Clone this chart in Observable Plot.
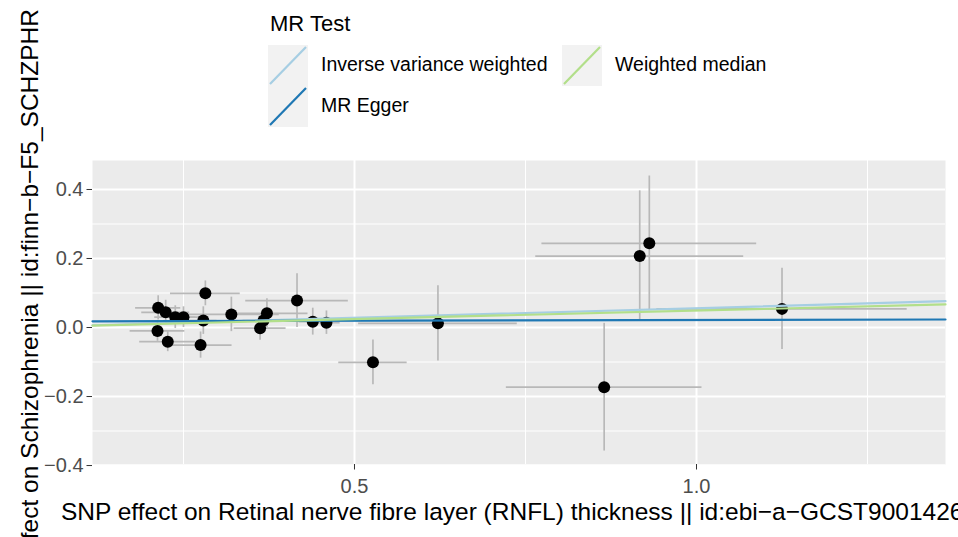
<!DOCTYPE html>
<html>
<head>
<meta charset="utf-8">
<script src="https://cdn.jsdelivr.net/npm/d3@7"></script>
<script src="https://cdn.jsdelivr.net/npm/@observablehq/plot@0.6"></script>
<style>
  html, body { margin: 0; padding: 0; background: white; overflow: hidden; }
  #chart { position: relative; width: 958px; height: 537px; overflow: hidden; font-family: "Liberation Sans", Arial, Helvetica, sans-serif; }
  #chart svg { position: absolute; left: 0; top: 0; overflow: visible; }
  #chart [aria-label="x-axis label"] text, #chart [aria-label="y-axis label"] text { font-size: 24.5px; fill: #000; }
  #chart [aria-label="x-axis tick label"] text, #chart [aria-label="y-axis tick label"] text { font-size: 20px; fill: #4d4d4d; }
  #chart [aria-label="x-axis tick"], #chart [aria-label="y-axis tick"] { stroke: #333333; }
  .legend { position: absolute; left: 0; top: 0; }
  .legend-title { position: absolute; left: 270px; top: 11px; font-size: 22px; color: #000; white-space: nowrap; }
  .legend-key { position: absolute; width: 40px; height: 41px; background: #f2f2f2; }
  .legend-key svg { position: static; display: block; }
  .legend-label { position: absolute; font-size: 19.5px; color: #000; white-space: nowrap; line-height: 41px; }
</style>
</head>
<body>
<div id="chart"></div>
<script>
// SNP-level effects: exposure (RNFL thickness) and outcome (schizophrenia), with standard errors
const betaExposure = [0.213, 0.224, 0.212, 0.227, 0.238, 0.250, 0.282, 0.279, 0.275, 0.320, 0.362, 0.372, 0.367, 0.416, 0.439, 0.459, 0.527, 0.622, 0.865, 0.917, 0.931, 1.125];
const seExposure   = [0.033, 0.035, 0.040, 0.041, 0.030, 0.030, 0.051, 0.020, 0.046, 0.070, 0.038, 0.060, 0.030, 0.075, 0.020, 0.020, 0.050, 0.116, 0.143, 0.152, 0.157, 0.183];
const betaOutcome  = [0.057, 0.044, -0.010, -0.041, 0.030, 0.030, 0.099, 0.020, -0.051, 0.038, -0.002, 0.041, 0.020, 0.078, 0.017, 0.014, -0.101, 0.012, -0.173, 0.207, 0.244, 0.054];
const seOutcome    = [0.035, 0.035, 0.030, 0.029, 0.033, 0.030, 0.036, 0.040, 0.038, 0.050, 0.035, 0.042, 0.030, 0.078, 0.039, 0.034, 0.065, 0.109, 0.185, 0.189, 0.195, 0.118];

// MR estimates drawn as lines: intercept + slope * exposure effect
const methods          = ["Inverse variance weighted", "MR Egger", "Weighted median"];
const methodIntercepts = [0, 0.0175, 0];
const methodSlopes     = [0.056, 0.0042, 0.049];
const methodColors     = ["#a6cee3", "#1f78b4", "#b2df8a"];

// Axis ticks and titles
const xTicks      = [0.5, 1.0];
const xMinorTicks = [0.25, 0.75, 1.25];
const yTicks      = [-0.4, -0.2, 0, 0.2, 0.4];
const yMinorTicks = [-0.3, -0.1, 0.1, 0.3];
const xDomain     = [0.117, 1.364];
const yDomain     = [-0.397, 0.484];
const xTitle = "SNP effect on Retinal nerve fibre layer (RNFL) thickness || id:ebi\u2212a\u2212GCST90014268";
const yTitle = "SNP effect on Schizophrenia || id:finn\u2212b\u2212F5_SCHZPHR";
const legendTitle = "MR Test";

const snps = betaExposure.map((bx, i) => ({
  bx, sx: seExposure[i], by: betaOutcome[i], sy: seOutcome[i]
}));

const fits = methods.flatMap((m, i) =>
  xDomain.map(x => ({method: m, x, y: methodIntercepts[i] + methodSlopes[i] * x}))
);

const fmt = d3.format(".1f");

const plot = Plot.plot({
  width: 958,
  height: 537,
  marginLeft: 92,
  marginRight: 13,
  marginTop: 160,
  marginBottom: 73,
  style: {fontFamily: '"Liberation Sans", Arial, Helvetica, sans-serif', background: "transparent", overflow: "visible"},
  x: {domain: xDomain},
  y: {domain: yDomain},
  color: {domain: methods, range: methodColors},
  marks: [
    Plot.frame({fill: "#ebebeb", stroke: null}),
    Plot.gridX(xMinorTicks, {stroke: "white", strokeOpacity: 1, strokeWidth: 1}),
    Plot.gridY(yMinorTicks, {stroke: "white", strokeOpacity: 1, strokeWidth: 1}),
    Plot.gridX(xTicks, {stroke: "white", strokeOpacity: 1, strokeWidth: 2}),
    Plot.gridY(yTicks, {stroke: "white", strokeOpacity: 1, strokeWidth: 2}),
    Plot.axisX(xTicks, {
      tickFormat: fmt, tickSize: 5.5, tickPadding: 9, fontSize: 20,
      label: xTitle, labelAnchor: "center", labelOffset: 55, labelArrow: "none"
    }),
    Plot.axisY(yTicks, {
      tickFormat: fmt, tickSize: 5.5, tickPadding: 3.5, fontSize: 20,
      label: yTitle, labelAnchor: "center", labelOffset: 72, labelArrow: "none"
    }),
    Plot.ruleX(snps, {x: "bx", y1: d => d.by - d.sy, y2: d => d.by + d.sy, stroke: "#b8b8b8", strokeWidth: 1.7}),
    Plot.ruleY(snps, {y: "by", x1: d => d.bx - d.sx, x2: d => d.bx + d.sx, stroke: "#b8b8b8", strokeWidth: 1.7}),
    Plot.dot(snps, {x: "bx", y: "by", r: 6, fill: "black", stroke: null}),
    Plot.line(fits, {x: "x", y: "y", z: "method", stroke: "method", strokeWidth: 2.2})
  ]
});

const chart = document.getElementById("chart");
chart.appendChild(plot);

// Legend: title plus one key per method in a two-column layout
const legend = document.createElement("div");
legend.className = "legend";
const title = document.createElement("div");
title.className = "legend-title";
title.textContent = legendTitle;
legend.appendChild(title);

const keySlots = [{left: 268, top: 45}, {left: 268, top: 86}, {left: 562, top: 45}];
methods.forEach((m, i) => {
  const slot = keySlots[i];
  const key = document.createElement("div");
  key.className = "legend-key";
  key.style.left = slot.left + "px";
  key.style.top = slot.top + "px";
  const s = d3.create("svg").attr("width", 40).attr("height", 41);
  s.append("line").attr("x1", 2).attr("y1", 39).attr("x2", 38).attr("y2", 2)
    .attr("stroke", methodColors[i]).attr("stroke-width", 2.2);
  key.appendChild(s.node());
  legend.appendChild(key);
  const lab = document.createElement("div");
  lab.className = "legend-label";
  lab.style.left = (slot.left + 53) + "px";
  lab.style.top = (slot.top - 1) + "px";
  lab.textContent = m;
  legend.appendChild(lab);
});
chart.appendChild(legend);
</script>
</body>
</html>
